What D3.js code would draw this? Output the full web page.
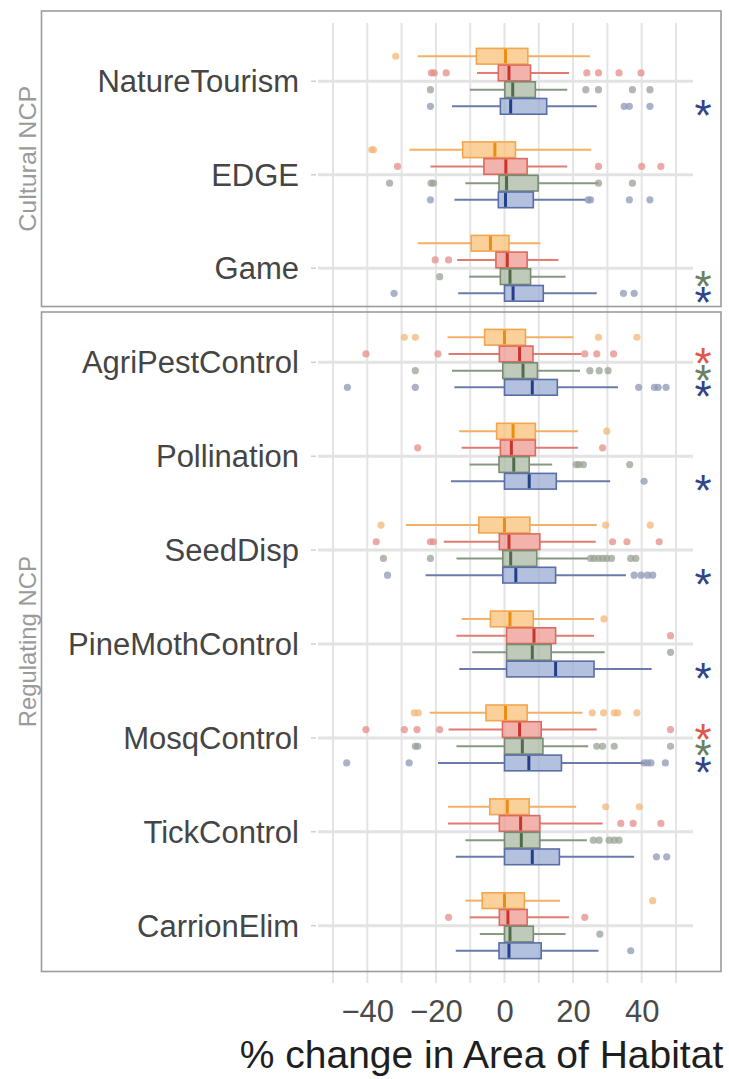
<!DOCTYPE html>
<html>
<head>
<meta charset="utf-8">
<script src="https://cdn.jsdelivr.net/npm/d3@7"></script>
<style>
  html, body { margin: 0; padding: 0; background: #fff; }
  svg { display: block; }
  text { font-family: "Liberation Sans", Arial, sans-serif; }
</style>
</head>
<body>
<svg id="chart" width="729" height="1079"></svg>
<script>
// ---------------- DATA ----------------
const culturalCats   = ["NatureTourism", "EDGE", "Game"];
const regulatingCats = ["AgriPestControl", "Pollination", "SeedDisp", "PineMothControl",
                        "MosqControl", "TickControl", "CarrionElim"];
const allCats = culturalCats.concat(regulatingCats);
const panelNames = ["Cultural NCP", "Regulating NCP"];
const seriesKeys = ["orange", "red", "green", "blue"];
const xTicks = [-40, -20, 0, 20, 40];
const xGrid = [-50, -40, -30, -20, -10, 0, 10, 20, 30, 40, 50];
const xTitle = "% change in Area of Habitat";

// [lower whisker, Q1, median, Q3, upper whisker] per category (allCats order)
const orangeStats = [
  [-25.3, -8.2, 0.3, 6.8, 24.9], [-27.7, -12.2, -2.8, 3.2, 25.3], [-25.3, -9.7, -4.1, 1.3, 10.5],
  [-16.6, -5.8, 0, 6.1, 20.1], [-13.2, -2.3, 2.5, 9, 21.4], [-28.7, -7.5, 0, 7.4, 26.9],
  [-12.5, -4.1, 1.6, 8.4, 26.1], [-21.8, -5.4, 0.3, 6.6, 22.7], [-16.5, -4.3, 0.8, 7.2, 20.9],
  [-11.4, -6.5, 0, 5.8, 16.2]
];
const redStats = [
  [-8, -1.8, 1.3, 7.6, 18.8], [-21.6, -6, 0.4, 6.6, 18.3], [-13.8, -2.5, 0.8, 6.6, 15.7],
  [-16.3, -1.5, 4.4, 8.3, 22.4], [-12.5, -1.2, 2, 9, 21.4], [-17.7, -1.5, 1.3, 10.3, 26.6],
  [-14, 0.6, 8.6, 14.9, 26.1], [-16.3, -0.6, 4.4, 10.7, 26.9], [-16.5, -1.5, 4.7, 10.3, 28.6],
  [-10.1, -1.5, 1, 6.6, 18.8]
];
const greenStats = [
  [-10.1, 0.1, 2.4, 9, 18.3], [-11.4, -1.6, 0.6, 9.8, 27.4], [-10.3, -1.2, 1.6, 7.6, 17.8],
  [-15.3, -0.5, 5.4, 9.6, 22], [-10.2, -1.6, 2.7, 7.2, 13.9], [-14, -0.5, 1.8, 9.4, 24.4],
  [-9.4, 0.6, 8.1, 13.6, 29.2], [-14, 0, 5.2, 11.2, 24.4], [-11.4, 0, 4.9, 10.3, 24],
  [-7.2, 0, 1.6, 8.4, 17.8]
];
const blueStats = [
  [-15.3, -1.2, 1.8, 12.3, 26.9], [-14.6, -1.8, 0.3, 8.4, 23.7], [-13.5, 0, 2.5, 11.3, 26.9],
  [-14.6, 0, 8.1, 15.4, 33.1], [-15.6, 0, 7.2, 15.1, 30.8], [-23, -0.5, 3.3, 14.9, 35.4],
  [-13.2, 0.6, 14.9, 26.1, 42.9], [-19.4, 0, 7.1, 16.6, 40.7], [-14.2, 0, 8.1, 16, 37.8],
  [-14.2, -1.6, 1.3, 10.7, 27.4]
];

// outliers per category (allCats order)
const orangeOut = [
  [-31.7], [-38.7, -38.2], [], [-29.2, -26, 27.4, 38.6], [29.8], [-36, 29.5, 42.5],
  [29], [-26.3, -25.1, 25.6, 28.9, 32, 33, 38.6], [29.5, 39.3], [43.2]
];
const redOut = [
  [-21.3, -20.5, -17, 24, 27.4, 33.4, 39.8], [-31.2, 27.4, 40, 45.6], [-20.2, -16.3],
  [-40.4, -19.4, 23.4, 26.9, 31.8], [-25.3, 28.6], [-37.4, -21.6, -20.7, 31.5, 35.7, 45.1],
  [48.4], [-40.4, -29.2, -25.5, -18.9, 48.4], [33.9, 37.5, 45.6], [-16.3, 23.4]
];
const greenOut = [
  [-21.6, 23.7, 27.4, 37.3, 42.4], [-33.5, -21.4, -20.7, 27.4, 37.3], [-18.9],
  [-26, 24.9, 27.6, 30.2], [20.9, 21.7, 23, 36.5],
  [-35.3, -21.6, 25.1, 26.1, 27.4, 28.6, 29.8, 31.2, 36.8, 38.3],
  [48.4], [-26, -25.3, 26.9, 28.6, 32, 48.4], [25.9, 27.6, 30.5, 32, 33.4], [27.8]
];
const blueOut = [
  [-21.6, 34.9, 36.4, 42.4], [-21.6, 24.4, 25.1, 36.4, 42.4], [-32.2, 34.7, 37.8],
  [-45.8, -26, 39.1, 43.7, 44.8, 47.1], [40.7], [-34.1, 37.8, 39.8, 41.7, 43.2],
  [], [-46, -27.8, 40.7, 41.7, 42.7, 46.9], [44.3, 47.3], [36.8]
];

// significance stars: [category, series]
const stars = [
  ["NatureTourism", "blue"], ["Game", "green"], ["Game", "blue"],
  ["AgriPestControl", "red"], ["AgriPestControl", "green"], ["AgriPestControl", "blue"],
  ["Pollination", "blue"], ["SeedDisp", "blue"], ["PineMothControl", "blue"],
  ["MosqControl", "red"], ["MosqControl", "green"], ["MosqControl", "blue"]
];

// ---------------- STYLE ----------------
const statsBySeries = { orange: orangeStats, red: redStats, green: greenStats, blue: blueStats };
const outBySeries   = { orange: orangeOut, red: redOut, green: greenOut, blue: blueOut };
const fillC   = { orange: "#f8c07a", red: "#ee9a90", green: "#a9b8a3", blue: "#9aacd4" };
const strokeC = { orange: "#f2a650", red: "#dc6a60", green: "#788c71", blue: "#5a6ea6" };
const medC    = { orange: "#ea8d12", red: "#c8352a", green: "#4f6b49", blue: "#233f89" };
const whiskC  = { orange: "#f3b064", red: "#e07b72", green: "#879782", blue: "#6a7bac" };
const ptC     = { orange: "#f3b77a", red: "#e48d88", green: "#98a294", blue: "#8d98b6" };
const starC   = { red: "#e0584a", green: "#6b7f63", blue: "#2f4587" };

// ---------------- SCALES ----------------
const svg = d3.select("#chart");
const x = d3.scaleLinear().domain([-50, 50]).range([333, 676]);
const yTop = d3.scalePoint().domain(culturalCats).range([81.3, 268.3]);
const yBot = d3.scalePoint().domain(regulatingCats).range([362.3, 925.7]);
const yCat = c => culturalCats.includes(c) ? yTop(c) : yBot(c);
const dodge = d3.scaleBand().domain(seriesKeys).range([-33.4, 33.4]);
const rowY = (c, s) => yCat(c) + dodge(s) + dodge.bandwidth() / 2;
const boxH = dodge.bandwidth() * 0.94;

// ---------------- GRID ----------------
svg.append("g").selectAll("line").data(xGrid).join("line")
  .attr("x1", d => x(d)).attr("x2", d => x(d))
  .attr("y1", 23).attr("y2", 983)
  .attr("stroke", "#e4e4e4").attr("stroke-width", 2);

svg.append("g").selectAll("line").data(allCats).join("line")
  .attr("x1", 318).attr("x2", 693)
  .attr("y1", d => yCat(d)).attr("y2", d => yCat(d))
  .attr("stroke", "#e3e3e3").attr("stroke-width", 3);

svg.append("g").selectAll("line").data(allCats).join("line")
  .attr("x1", 311).attr("x2", 316)
  .attr("y1", d => yCat(d)).attr("y2", d => yCat(d))
  .attr("stroke", "#cfcfcf").attr("stroke-width", 1.5);

// ---------------- BOXES ----------------
const rows = [];
allCats.forEach((c, i) => seriesKeys.forEach(s => {
  rows.push({ cat: c, s: s, st: statsBySeries[s][i], out: outBySeries[s][i] });
}));

const gBox = svg.append("g");
gBox.selectAll("line.wl").data(rows).join("line").attr("class", "wl")
  .attr("x1", d => x(d.st[0])).attr("x2", d => x(d.st[1]))
  .attr("y1", d => rowY(d.cat, d.s)).attr("y2", d => rowY(d.cat, d.s))
  .attr("stroke", d => whiskC[d.s]).attr("stroke-width", 2);
gBox.selectAll("line.wr").data(rows).join("line").attr("class", "wr")
  .attr("x1", d => x(d.st[3])).attr("x2", d => x(d.st[4]))
  .attr("y1", d => rowY(d.cat, d.s)).attr("y2", d => rowY(d.cat, d.s))
  .attr("stroke", d => whiskC[d.s]).attr("stroke-width", 2);
gBox.selectAll("rect").data(rows).join("rect")
  .attr("x", d => x(d.st[1])).attr("width", d => x(d.st[3]) - x(d.st[1]))
  .attr("y", d => rowY(d.cat, d.s) - boxH / 2).attr("height", boxH)
  .attr("fill", d => fillC[d.s]).attr("fill-opacity", 0.75)
  .attr("stroke", d => strokeC[d.s]).attr("stroke-width", 1.6);
gBox.selectAll("line.med").data(rows).join("line").attr("class", "med")
  .attr("x1", d => x(d.st[2])).attr("x2", d => x(d.st[2]))
  .attr("y1", d => rowY(d.cat, d.s) - boxH / 2 + 0.8).attr("y2", d => rowY(d.cat, d.s) + boxH / 2 - 0.8)
  .attr("stroke", d => medC[d.s]).attr("stroke-width", 3);
const pts = [];
rows.forEach(r => r.out.forEach(v => pts.push({ cat: r.cat, s: r.s, v: v })));
gBox.selectAll("circle").data(pts).join("circle")
  .attr("cx", d => x(d.v)).attr("cy", d => rowY(d.cat, d.s)).attr("r", 3.6)
  .attr("fill", d => ptC[d.s]).attr("fill-opacity", 0.75);

// significance stars (text)
svg.append("g").selectAll("text").data(stars).join("text")
  .attr("x", 703).attr("y", d => rowY(d[0], d[1]) + 25)
  .attr("text-anchor", "middle").attr("font-size", 44)
  .attr("fill", d => starC[d[1]]).text("*");

// ---------------- PANELS ----------------
svg.append("rect").attr("x", 41.5).attr("y", 11).attr("width", 679.5).attr("height", 295.5)
  .attr("fill", "none").attr("stroke", "#9c9c9c").attr("stroke-width", 1.6);
svg.append("rect").attr("x", 41.5).attr("y", 312).attr("width", 679.5).attr("height", 659.5)
  .attr("fill", "none").attr("stroke", "#9c9c9c").attr("stroke-width", 1.6);

svg.append("g").selectAll("text").data(allCats).join("text")
  .attr("x", 299).attr("y", d => yCat(d)).attr("dy", "0.36em")
  .attr("text-anchor", "end").attr("font-size", 31).attr("fill", "#454545")
  .text(d => d);

const panelInfo = [
  { name: panelNames[0], cy: 158.8, len: 146 },
  { name: panelNames[1], cy: 641.7, len: 171 }
];
svg.append("g").selectAll("text").data(panelInfo).join("text")
  .attr("transform", d => `translate(36,${d.cy}) rotate(-90)`)
  .attr("text-anchor", "middle").attr("font-size", 24).attr("fill", "#9a9a9a")
  .attr("textLength", d => d.len).attr("lengthAdjust", "spacingAndGlyphs")
  .text(d => d.name);

// ---------------- X AXIS ----------------
const axis = d3.axisBottom(x).tickValues(xTicks).tickSize(0).tickPadding(0);
const gAx = svg.append("g").attr("transform", "translate(0,1000)").call(axis);
gAx.select(".domain").remove();
gAx.selectAll("text").attr("font-size", 31).attr("fill", "#4a4a4a")
  .attr("font-family", "'Liberation Sans', Arial, sans-serif");

svg.append("text").attr("x", 481.5).attr("y", 1068)
  .attr("text-anchor", "middle").attr("font-size", 39).attr("fill", "#1e1e1e")
  .text(xTitle);
</script>
</body>
</html>
